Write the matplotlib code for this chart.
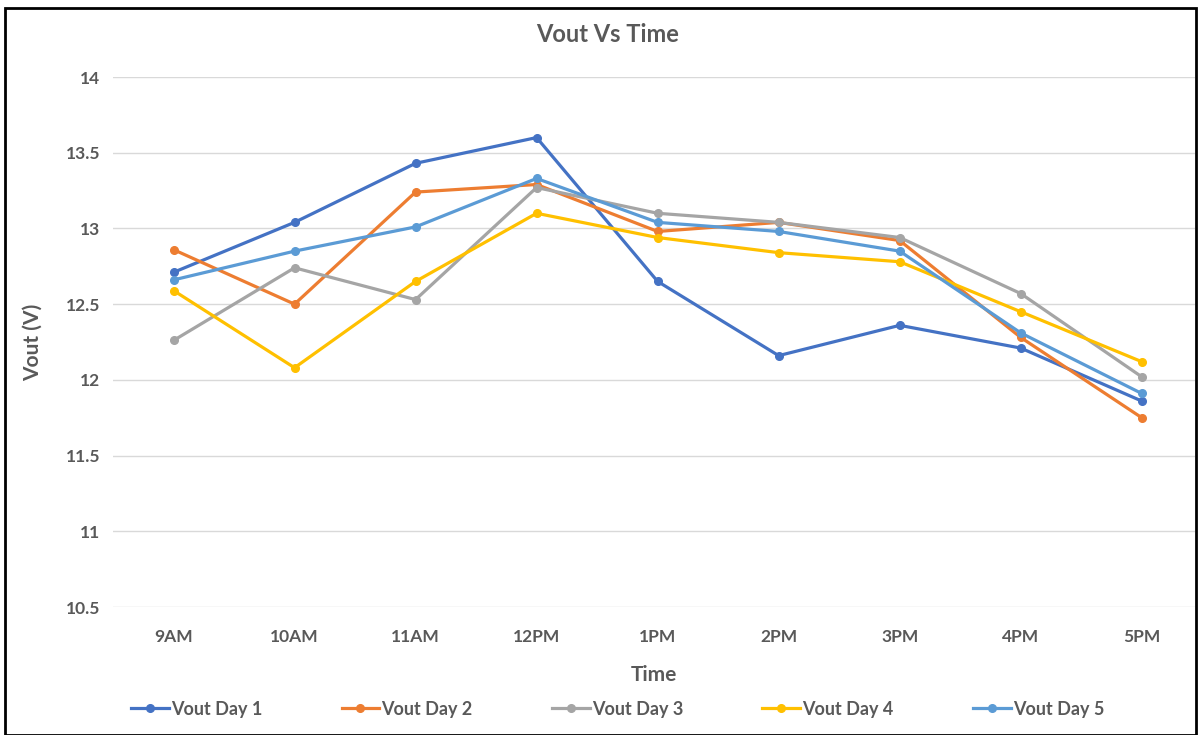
import matplotlib.pyplot as plt
from matplotlib.patches import Rectangle

plt.rcParams['font.family'] = ['Lato', 'DejaVu Sans']

TIMES = ['9AM', '10AM', '11AM', '12PM', '1PM', '2PM', '3PM', '4PM', '5PM']
DAY1 = [12.71, 13.04, 13.43, 13.60, 12.65, 12.16, 12.36, 12.21, 11.86]
DAY2 = [12.86, 12.50, 13.24, 13.29, 12.98, 13.04, 12.92, 12.28, 11.75]
DAY3 = [12.26, 12.74, 12.53, 13.27, 13.10, 13.04, 12.94, 12.57, 12.02]
DAY4 = [12.59, 12.08, 12.65, 13.10, 12.94, 12.84, 12.78, 12.45, 12.12]
DAY5 = [12.66, 12.85, 13.01, 13.33, 13.04, 12.98, 12.85, 12.31, 11.91]
SERIES = [('Vout Day 1', DAY1, '#4472C4'),
          ('Vout Day 2', DAY2, '#ED7D31'),
          ('Vout Day 3', DAY3, '#A5A5A5'),
          ('Vout Day 4', DAY4, '#FFC000'),
          ('Vout Day 5', DAY5, '#5B9BD5')]
YTICKS = [10.5, 11, 11.5, 12, 12.5, 13, 13.5, 14]

TEXT = '#595959'

fig = plt.figure(figsize=(11.99, 7.35), dpi=100)
ax = fig.add_axes([113 / 1199, 1 - 607 / 735, (1195 - 113) / 1199, (607 - 77) / 735])

x = list(range(len(TIMES)))
for label, vals, color in SERIES:
    ax.plot(x, vals, color=color, lw=2.3, marker='o', ms=5.5, label=label)

ax.set_xlim(-0.5, 8.44)
ax.set_ylim(10.5, 14)
ax.set_yticks(YTICKS)
ax.set_yticklabels(['%g' % v for v in YTICKS])
ax.set_xticks(x)
ax.set_xticklabels(TIMES)
ax.grid(axis='y', color='#D9D9D9', lw=1)
ax.set_axisbelow(True)
for s in ax.spines.values():
    s.set_visible(False)
ax.tick_params(length=0, labelsize=12.5, labelcolor=TEXT)
ax.tick_params(axis='x', pad=16)
ax.tick_params(axis='y', pad=9)
for t in ax.get_xticklabels() + ax.get_yticklabels():
    t.set_fontweight('bold')

ax.set_xlabel('Time', fontsize=15, color=TEXT, fontweight='bold', labelpad=14)
ax.set_ylabel('Vout (V)', fontsize=15, color=TEXT, fontweight='bold')
ax.yaxis.set_label_coords((43 - 113) / (1195 - 113), 0.5)
fig.text(0.507, 1 - 35 / 735, 'Vout Vs Time', ha='center', va='center',
         fontsize=17, color=TEXT, fontweight='bold')

leg = fig.legend(loc='center', bbox_to_anchor=(0.515, 1 - 709 / 735), ncol=5,
                 frameon=False, fontsize=13, handlelength=2.1, columnspacing=4.4,
                 handletextpad=0.1)
for t in leg.get_texts():
    t.set_color(TEXT)
    t.set_fontweight('bold')

fig.patches.append(Rectangle((5 / 1199, 0), 1191 / 1199, 1 - 8 / 735,
                             transform=fig.transFigure, fill=False,
                             edgecolor='black', lw=2))

fig.savefig('out.png', dpi=100)
